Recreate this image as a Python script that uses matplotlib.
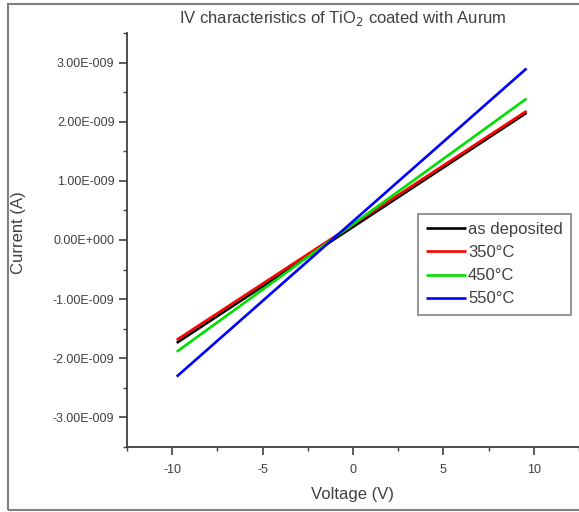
import matplotlib
matplotlib.use('Agg')
import matplotlib.pyplot as plt
from matplotlib.ticker import MultipleLocator, FuncFormatter
from matplotlib.patches import Rectangle

# voltage sweep end points (V) and current (A) for each sample
voltage = [-9.75, 9.6]
as_deposited = [-1.74e-9, 2.15e-9]
c350 = [-1.69e-9, 2.18e-9]
c450 = [-1.89e-9, 2.39e-9]
c550 = [-2.31e-9, 2.90e-9]

labels = ['as deposited', '350°C', '450°C', '550°C']
colors = ['#000000', '#ff0000', '#00e000', '#0000ff']

def sci_fmt(v, pos):
    if abs(v) < 1e-15:
        return '0.00E+000'
    s = '%.2E' % v
    mant, ex = s.split('E')
    e = int(ex)
    sign = '-' if e < 0 else '+'
    return '%sE%s%03d' % (mant, sign, abs(e))

def main():
    plt.rcParams['font.family'] = ['Liberation Sans', 'DejaVu Sans']
    plt.rcParams['axes.unicode_minus'] = False
    fig = plt.figure(figsize=(5.79, 5.12), dpi=100)
    ax = fig.add_axes([0.2193, 0.127, 0.7807, 0.8086])

    series = [as_deposited, c350, c450, c550]
    for y, lab, col in zip(series, labels, colors):
        ax.plot(voltage, y, color=col, lw=1.9, label=lab, solid_capstyle='butt')

    ax.set_xlim(-12.5, 12.5)
    ax.set_ylim(-3.5e-9, 3.5e-9)
    ax.xaxis.set_major_locator(MultipleLocator(5))
    ax.xaxis.set_minor_locator(MultipleLocator(2.5))
    ax.yaxis.set_major_locator(MultipleLocator(1e-9))
    ax.yaxis.set_minor_locator(MultipleLocator(0.5e-9))
    ax.yaxis.set_major_formatter(FuncFormatter(sci_fmt))
    ax.yaxis.get_offset_text().set_visible(False)

    for s in ['top', 'right']:
        ax.spines[s].set_visible(False)
    for s in ['left', 'bottom']:
        ax.spines[s].set_color('#404040')
        ax.spines[s].set_linewidth(1.3)
    ax.tick_params(which='major', direction='out', length=6, width=1.2,
                   color='#404040', labelsize=9, labelcolor='#404040')
    ax.tick_params(axis='y', which='major', pad=3)
    ax.tick_params(axis='x', which='major', pad=6)
    ax.tick_params(which='minor', direction='out', length=3, width=1.0, color='#404040')

    ax.set_xlabel('Voltage (V)', fontsize=12, color='#404040')
    ax.xaxis.set_label_coords(0.5, (447 - 487) / 414)
    ax.set_ylabel('Current (A)', fontsize=12, color='#404040')
    ax.yaxis.set_label_coords((26 - 127) / 452, 0.517)

    fig.text(343 / 579, 1 - 19 / 512, r'IV characteristics of TiO$_{2}$ coated with Aurum',
             ha='center', va='center', fontsize=12, color='#404040')

    leg = ax.legend(loc='upper left', bbox_to_anchor=(418 / 579, 1 - 214 / 512),
                    bbox_transform=fig.transFigure, fontsize=12, frameon=True,
                    fancybox=False, handlelength=2.4, handletextpad=0.1,
                    labelspacing=0.48, borderpad=0.5, borderaxespad=0)
    leg.get_frame().set_edgecolor('#707070')
    leg.get_frame().set_linewidth(1.3)
    for t in leg.get_texts():
        t.set_color('#404040')

    # outer gray frame of the original screenshot
    fig.patches.append(Rectangle((8 / 579, 2 / 512), 1.2, 506 / 512, transform=fig.transFigure,
                                 fill=False, edgecolor='#808080', lw=1.5))

    fig.savefig('out.png', dpi=100)

if __name__ == '__main__':
    main()
